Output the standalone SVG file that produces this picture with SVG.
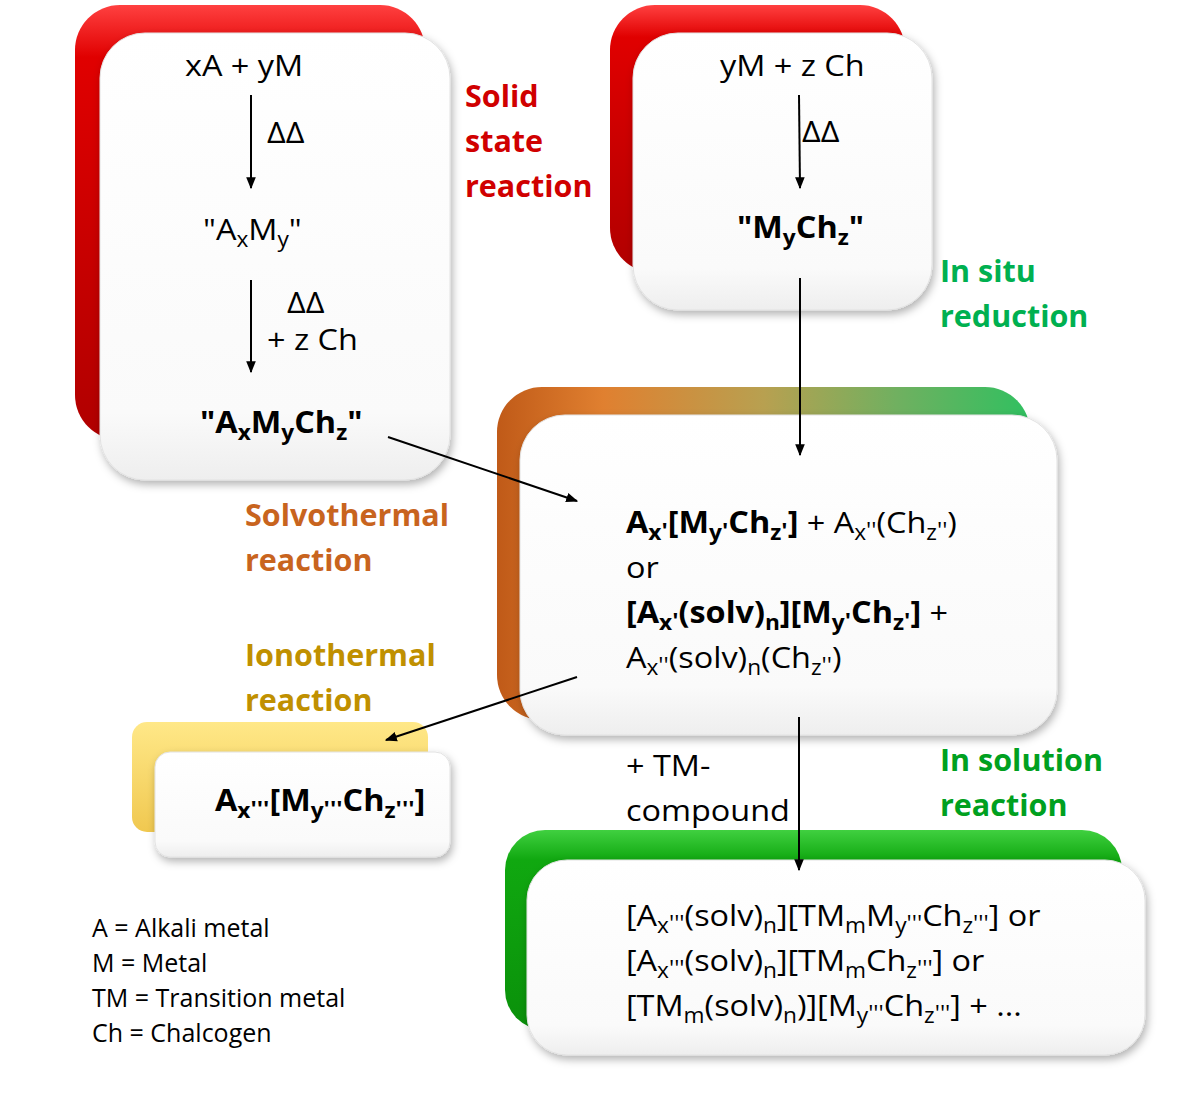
<svg xmlns="http://www.w3.org/2000/svg" width="1200" height="1115" viewBox="0 0 1200 1115">
<style>
text{font-family:"Open Sans",Lato,"Liberation Sans",sans-serif;fill:#000}
.f{font-size:30px;transform-box:fill-box;transform-origin:0 0;transform:scaleX(1.08)}
.b{font-weight:bold}
.s{font-size:21px;baseline-shift:-7px}
.p{font-size:22px;baseline-shift:2px}
.lab{font-size:30.5px;font-weight:bold}
.red{fill:#d00000}
.grn{fill:#00b050}
.grn2{fill:#00a020}
.org{fill:#c8641e}
.gld{fill:#c09000}
.leg{font-size:25px}
.card{filter:url(#sh)}
.w{fill:url(#wg);stroke:#e2e2e2;stroke-width:1}
.con line{stroke:#000;stroke-width:2;marker-end:url(#ah)}
</style>
<defs>
<filter id="sh" x="-10%" y="-10%" width="125%" height="130%">
<feDropShadow dx="2" dy="4" stdDeviation="4" flood-color="#000" flood-opacity="0.3"/>
</filter>
<linearGradient id="wg" x1="0" y1="0" x2="0" y2="1">
<stop offset="0" stop-color="#ffffff"/>
<stop offset="0.85" stop-color="#fafafa"/>
<stop offset="1" stop-color="#eeeeee"/>
</linearGradient>
<linearGradient id="rg" x1="0" y1="0" x2="0" y2="1">
<stop offset="0" stop-color="#ff4040"/>
<stop offset="0.12" stop-color="#e00000"/>
<stop offset="1" stop-color="#b00000"/>
</linearGradient>
<linearGradient id="mg" x1="0" y1="0" x2="1" y2="0">
<stop offset="0" stop-color="#c05a18"/>
<stop offset="0.2" stop-color="#e08030"/>
<stop offset="0.5" stop-color="#b8a050"/>
<stop offset="0.75" stop-color="#70b060"/>
<stop offset="1" stop-color="#30c060"/>
</linearGradient>
<linearGradient id="gg" x1="0" y1="0" x2="0" y2="1">
<stop offset="0" stop-color="#40d040"/>
<stop offset="0.15" stop-color="#10a810"/>
<stop offset="1" stop-color="#0a900a"/>
</linearGradient>
<linearGradient id="yg" x1="0" y1="0" x2="0" y2="1">
<stop offset="0" stop-color="#ffe888"/>
<stop offset="1" stop-color="#f0c850"/>
</linearGradient>
<marker id="ah" viewBox="0 0 10 10" refX="9" refY="5" markerWidth="6" markerHeight="6" orient="auto" markerUnits="strokeWidth">
<path d="M0,1 L10,5 L0,9 z" fill="#000"/>
</marker>
</defs>

<g id="solid-state">
<rect x="75" y="5" width="350" height="435" rx="45" fill="url(#rg)"/>
<rect class="w card" x="100" y="33" width="350" height="447" rx="45"/>
<text class="f" x="185" y="76">xA + yM</text>
<text class="f" x="267" y="143">ΔΔ</text>
<text class="f" x="203" y="240">"A<tspan class="s">x</tspan>M<tspan class="s">y</tspan>"</text>
<text class="f" x="287" y="313">ΔΔ</text>
<text class="f" x="267" y="350">+ z Ch</text>
<text class="f b" x="200" y="433">"A<tspan class="s">x</tspan>M<tspan class="s">y</tspan>Ch<tspan class="s">z</tspan>"</text>
</g>

<g id="label-solid">
<text class="lab red" x="465" y="107">Solid</text>
<text class="lab red" x="465" y="152">state</text>
<text class="lab red" x="465" y="197">reaction</text>
</g>

<g id="in-situ">
<rect x="610" y="5" width="295" height="268" rx="45" fill="url(#rg)"/>
<rect class="w card" x="633" y="33" width="299" height="277" rx="45"/>
<text class="f" x="720" y="76">yM + z Ch</text>
<text class="f" x="802" y="142">ΔΔ</text>
<text class="f b" x="737" y="238">"M<tspan class="s">y</tspan>Ch<tspan class="s">z</tspan>"</text>
</g>

<g id="label-insitu">
<text class="lab grn" x="940" y="282">In situ</text>
<text class="lab grn" x="940" y="327">reduction</text>
</g>

<g id="middle">
<rect x="497" y="387" width="533" height="333" rx="45" fill="url(#mg)"/>
<rect class="w card" x="520" y="415" width="537" height="320" rx="45"/>
<text class="f" x="626" y="533"><tspan class="b">A<tspan class="s">x<tspan class="p">'</tspan></tspan>[M<tspan class="s">y<tspan class="p">'</tspan></tspan>Ch<tspan class="s">z<tspan class="p">'</tspan></tspan>]</tspan> + A<tspan class="s">x<tspan class="p">''</tspan></tspan>(Ch<tspan class="s">z<tspan class="p">''</tspan></tspan>)</text>
<text class="f" x="626" y="578">or</text>
<text class="f" x="626" y="623"><tspan class="b">[A<tspan class="s">x<tspan class="p">'</tspan></tspan>(solv)<tspan class="s">n</tspan>][M<tspan class="s">y<tspan class="p">'</tspan></tspan>Ch<tspan class="s">z<tspan class="p">'</tspan></tspan>]</tspan> +</text>
<text class="f" x="626" y="668">A<tspan class="s">x<tspan class="p">''</tspan></tspan>(solv)<tspan class="s">n</tspan>(Ch<tspan class="s">z<tspan class="p">''</tspan></tspan>)</text>
</g>

<g id="label-solvo">
<text class="lab org" x="245" y="526">Solvothermal</text>
<text class="lab org" x="245" y="571">reaction</text>
</g>

<g id="label-iono">
<text class="lab gld" x="245" y="666">Ionothermal</text>
<text class="lab gld" x="245" y="711">reaction</text>
</g>

<g id="iono-product">
<rect x="132" y="722" width="296" height="110" rx="15" fill="url(#yg)"/>
<rect class="w card" x="155" y="752" width="295" height="105" rx="15"/>
<text class="f b" x="215" y="811">A<tspan class="s">x<tspan class="p">'''</tspan></tspan>[M<tspan class="s">y<tspan class="p">'''</tspan></tspan>Ch<tspan class="s">z<tspan class="p">'''</tspan></tspan>]</text>
</g>

<g id="label-tm">
<text class="f" x="626" y="776">+ TM-</text>
<text class="f" x="626" y="821">compound</text>
</g>

<g id="label-insolution">
<text class="lab grn2" x="940" y="771">In solution</text>
<text class="lab grn2" x="940" y="816">reaction</text>
</g>

<g id="solution-product">
<rect x="505" y="830" width="617" height="200" rx="40" fill="url(#gg)"/>
<rect class="w card" x="527" y="860" width="618" height="195" rx="40"/>
<text class="f" x="626" y="926">[A<tspan class="s">x<tspan class="p">'''</tspan></tspan>(solv)<tspan class="s">n</tspan>][TM<tspan class="s">m</tspan>M<tspan class="s">y<tspan class="p">'''</tspan></tspan>Ch<tspan class="s">z<tspan class="p">'''</tspan></tspan>] or</text>
<text class="f" x="626" y="971">[A<tspan class="s">x<tspan class="p">'''</tspan></tspan>(solv)<tspan class="s">n</tspan>][TM<tspan class="s">m</tspan>Ch<tspan class="s">z<tspan class="p">'''</tspan></tspan>] or</text>
<text class="f" x="626" y="1016">[TM<tspan class="s">m</tspan>(solv)<tspan class="s">n</tspan>)][M<tspan class="s">y<tspan class="p">'''</tspan></tspan>Ch<tspan class="s">z<tspan class="p">'''</tspan></tspan>] + ...</text>
</g>

<g id="legend">
<text class="leg" x="92" y="937">A = Alkali metal</text>
<text class="leg" x="92" y="972">M = Metal</text>
<text class="leg" x="92" y="1007">TM = Transition metal</text>
<text class="leg" x="92" y="1042">Ch = Chalcogen</text>
</g>

<g id="connectors" class="con">
<line x1="251" y1="95" x2="251" y2="188"/>
<line x1="251" y1="280" x2="251" y2="372"/>
<line x1="799" y1="95" x2="800" y2="188"/>
<line x1="800" y1="278" x2="800" y2="455"/>
<line x1="388" y1="437" x2="577" y2="501"/>
<line x1="577" y1="677" x2="386" y2="740"/>
<line x1="799" y1="717" x2="799" y2="870"/>
</g>
</svg>
